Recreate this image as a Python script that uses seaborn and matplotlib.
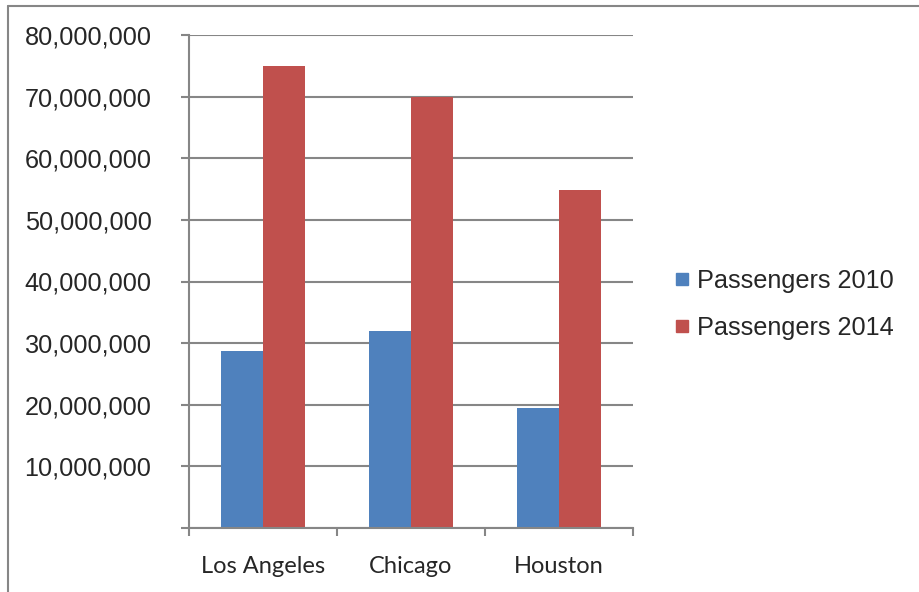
import matplotlib
matplotlib.use("Agg")
import matplotlib.pyplot as plt
from matplotlib.lines import Line2D
from matplotlib.ticker import FuncFormatter, FixedLocator
import pandas as pd
import seaborn as sns

cities = ["Los Angeles", "Chicago", "Houston"]
series = ["Passengers 2010", "Passengers 2014"]
passengers_2010 = [28_800_000, 32_000_000, 19_500_000]
passengers_2014 = [74_900_000, 70_000_000, 54_800_000]
y_ticks = [0, 10_000_000, 20_000_000, 30_000_000, 40_000_000,
           50_000_000, 60_000_000, 70_000_000, 80_000_000]

colors = ["#4F81BD", "#C0504D"]
grey = "#868686"

df = pd.DataFrame({
    "city": cities * 2,
    "series": [series[0]] * 3 + [series[1]] * 3,
    "value": passengers_2010 + passengers_2014,
})

sns.set_style("white")
plt.rcParams["font.family"] = ["Liberation Sans", "DejaVu Sans"]

fig = plt.figure(figsize=(9.19, 5.92), dpi=100)
ax = fig.add_axes([189 / 919, 1 - 528 / 592, (633 - 189) / 919, (528 - 35) / 592])

sns.barplot(data=df, x="city", y="value", hue="series", order=cities,
            hue_order=series, palette=colors, width=0.57, saturation=1,
            linewidth=0, ax=ax, legend=False)

ax.set_xlim(-0.5, 2.5)
ax.set_ylim(0, 80_000_000)
ax.yaxis.set_major_locator(FixedLocator(y_ticks))
ax.yaxis.set_major_formatter(FuncFormatter(lambda v, p: "" if v == 0 else f"{int(v):,}"))
ax.grid(axis="y", color=grey, linewidth=1.5)
ax.set_axisbelow(True)
ax.set_xlabel("")
ax.set_ylabel("")

for side in ["top", "right"]:
    ax.spines[side].set_visible(False)
for side in ["left", "bottom"]:
    ax.spines[side].set_color(grey)
    ax.spines[side].set_linewidth(1.5)

ax.tick_params(axis="y", length=6, width=1.5, color=grey, labelsize=18.2, pad=21,
               left=True)
ax.tick_params(axis="x", which="major", length=0, pad=20)
ax.set_xticks([-0.5, 0.5, 1.5, 2.5], minor=True)
ax.tick_params(axis="x", which="minor", length=6, width=1.5, color=grey, bottom=True)
for lbl in ax.get_xticklabels():
    lbl.set_fontfamily(["Lato", "DejaVu Sans"])
    lbl.set_fontsize(17)

handles = [Line2D([], [], marker="s", linestyle="none", markersize=8,
                  markerfacecolor=c, markeredgecolor=c) for c in colors]
fig.legend(handles, series, loc="center left", bbox_to_anchor=(0.706, 0.486),
           frameon=False, fontsize=18.2, handletextpad=0.2, labelspacing=0.9,
           handlelength=0.8)

# outer chart border (left and top only visible)
fig.add_artist(Line2D([8 / 919, 8 / 919], [0, 1 - 6 / 592], color=grey,
                      linewidth=1.5, transform=fig.transFigure))
fig.add_artist(Line2D([8 / 919, 1], [1 - 6 / 592, 1 - 6 / 592], color=grey,
                      linewidth=1.5, transform=fig.transFigure))

fig.savefig("out.png", dpi=100, facecolor="white")
